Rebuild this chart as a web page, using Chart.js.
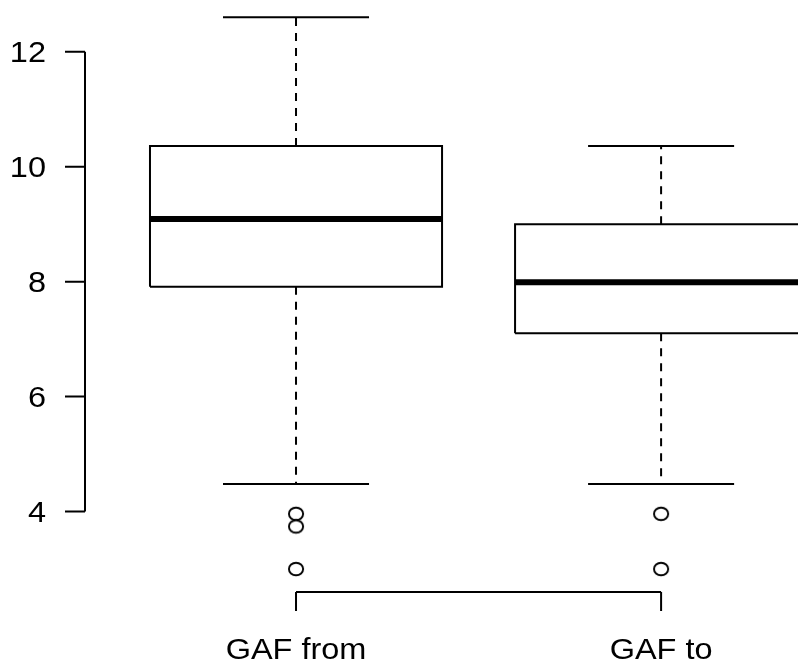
<!DOCTYPE html>
<html>
<head>
<meta charset="utf-8">
<script src="https://cdn.jsdelivr.net/npm/chart.js@4"></script>
<style>
  body { margin: 0; background: #fff; }
  #wrap { width: 798px; height: 664px; }
</style>
</head>
<body>
<div id="wrap"><canvas id="myChart"></canvas></div>
<script>
const groups = ['GAF from', 'GAF to'];
const lowerWhisker = [4.48, 4.48];
const q1 = [7.91, 7.1];
const median = [9.09, 7.99];
const q3 = [10.36, 9.0];
const upperWhisker = [12.6, 10.36];
const outliers = [
    [3.96, 3.74, 3.0],
    [3.96, 3.0],
];
const yTicks = [4, 6, 8, 10, 12];

// R output is a bit stretched sideways
const stretch = 1.12;

// open ellipse for outliers
const dot = document.createElement('canvas');
dot.width = 20;
dot.height = 18;
{
    const c = dot.getContext('2d');
    c.strokeStyle = '#000';
    c.lineWidth = 1.9;
    c.beginPath();
    c.ellipse(10, 9, 7.1, 6.3, 0, 0, Math.PI * 2);
    c.fillStyle = '#fff';
    c.fill();
    c.stroke();
}

const datasets = [];
groups.forEach((g, i) => {
    const x = i + 1;
    const line = (pts, extra) => Object.assign({
        data: pts,
        showLine: true,
        borderColor: '#000',
        borderWidth: 2,
        pointRadius: 0,
        fill: false,
    }, extra || {});
    // whiskers
    datasets.push(line([{x: x, y: q3[i]}, {x: x, y: upperWhisker[i]}], {borderDash: [8, 7]}));
    datasets.push(line([{x: x, y: q1[i]}, {x: x, y: lowerWhisker[i]}], {borderDash: [8, 7]}));
    datasets.push(line([{x: x - 0.2, y: upperWhisker[i]}, {x: x + 0.2, y: upperWhisker[i]}]));
    datasets.push(line([{x: x - 0.2, y: lowerWhisker[i]}, {x: x + 0.2, y: lowerWhisker[i]}]));
    // box
    datasets.push(line([
        {x: x - 0.4, y: q1[i]}, {x: x + 0.4, y: q1[i]},
        {x: x + 0.4, y: q3[i]}, {x: x - 0.4, y: q3[i]},
        {x: x - 0.4, y: q1[i]},
    ], {borderJoinStyle: 'miter'}));
    // median
    datasets.push(line([{x: x - 0.4, y: median[i]}, {x: x + 0.4, y: median[i]}], {borderWidth: 6}));
    // outliers
    datasets.push({
        data: outliers[i].map(v => ({x: x, y: v})),
        showLine: false,
        pointStyle: dot,
        pointRadius: 8,
    });
});

const rAxes = {
    id: 'rAxes',
    afterDraw(chart) {
        const ctx = chart.ctx;
        const xs = chart.scales.x;
        const ys = chart.scales.y;
        const left = chart.chartArea.left;
        const bottom = chart.chartArea.bottom;
        ctx.save();
        ctx.strokeStyle = '#000';
        ctx.lineWidth = 2;
        ctx.fillStyle = '#000';
        ctx.font = '29px "Liberation Sans", Arial, sans-serif';

        // y axis
        const yTop = ys.getPixelForValue(yTicks[yTicks.length - 1]);
        const yBot = ys.getPixelForValue(yTicks[0]);
        ctx.beginPath();
        ctx.moveTo(left, yTop);
        ctx.lineTo(left, yBot);
        yTicks.forEach(t => {
            const py = ys.getPixelForValue(t);
            ctx.moveTo(left - 20, py);
            ctx.lineTo(left, py);
        });
        ctx.stroke();
        ctx.textAlign = 'right';
        ctx.textBaseline = 'alphabetic';
        yTicks.forEach(t => {
            const py = ys.getPixelForValue(t);
            ctx.save();
            ctx.translate(left - 39, py + 10.5);
            ctx.scale(stretch, 1);
            ctx.fillText(String(t), 0, 0);
            ctx.restore();
        });

        // x axis
        const x1 = xs.getPixelForValue(1);
        const x2 = xs.getPixelForValue(groups.length);
        ctx.beginPath();
        ctx.moveTo(x1, bottom);
        ctx.lineTo(x2, bottom);
        groups.forEach((g, i) => {
            const px = xs.getPixelForValue(i + 1);
            ctx.moveTo(px, bottom);
            ctx.lineTo(px, bottom + 19);
        });
        ctx.stroke();
        ctx.textAlign = 'center';
        groups.forEach((g, i) => {
            const px = xs.getPixelForValue(i + 1);
            ctx.save();
            ctx.translate(px, bottom + 67);
            ctx.scale(stretch, 1);
            ctx.fillText(g, 0, 0);
            ctx.restore();
        });
        ctx.restore();
    }
};

const config = {
    type: 'scatter',
    data: { datasets: datasets },
    options: {
        responsive: true,
        maintainAspectRatio: false,
        animation: false,
        layout: {
            autoPadding: false,
            padding: { left: 85, right: 0, top: 0, bottom: 72 },
        },
        plugins: {
            legend: { display: false },
            tooltip: { enabled: false },
        },
        scales: {
            x: { type: 'linear', min: 0.422, max: 2.375, display: false },
            y: { type: 'linear', min: 2.6, max: 12.9, display: false },
        },
    },
    plugins: [rAxes],
};

const myChart = new Chart(document.getElementById('myChart'), config);
</script>
</body>
</html>
